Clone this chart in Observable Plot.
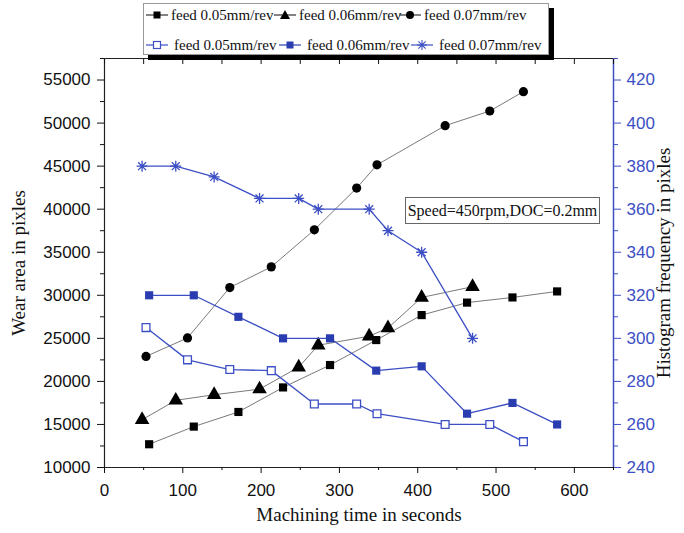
<!DOCTYPE html>
<html>
<head>
<meta charset="utf-8">
<script src="https://cdn.jsdelivr.net/npm/d3@7"></script>
<script src="https://cdn.jsdelivr.net/npm/@observablehq/plot@0.6"></script>
<style>
  body { margin: 0; background: #fff; }
  #wrap { position: relative; width: 684px; height: 533px; }
  #legend { position: relative; height: 55px; z-index: 2; }
  #lbox { position: absolute; left: 143px; top: 3px; width: 404px; height: 50px;
          border: 1px solid #999; box-shadow: 5px 5px 0 #000; background: #fff;
          font-family: "Liberation Serif", "Times New Roman", serif; font-size: 15px; color: #111; }
  .item { position: absolute; display: flex; align-items: center; white-space: nowrap; height: 16px; }
  .item svg { display: block; margin-right: 2px; }
  #note { position: absolute; left: 405px; top: 197px; width: 193px; height: 25px;
          border: 1px solid #666; background: #fff; z-index: 2;
          font-family: "Liberation Serif", "Times New Roman", serif; font-size: 16px;
          line-height: 25px; text-align: center; color: #111; }
</style>
</head>
<body>
<div id="wrap">
  <div id="legend"><div id="lbox"></div></div>
  <div id="chart"></div>
  <div id="note">Speed=450rpm,DOC=0.2mm</div>
</div>
<script>
// ---- data ----
const t05 = [57, 114, 171, 228, 288, 347, 405, 463, 521, 578];
const wear05 = [12700, 14750, 16450, 19300, 21900, 24800, 27700, 29150, 29750, 30450];
const t06 = [48, 91, 140, 198, 248, 273, 338, 362, 405, 470];
const wear06 = [15550, 17800, 18450, 19100, 21650, 24200, 25250, 26200, 29750, 31000];
const t07 = [53, 106, 160, 213, 268, 322, 348, 435, 492, 535];
const wear07 = [22900, 25050, 30900, 33300, 37600, 42450, 45150, 49700, 51400, 53650];

// histogram frequency (right axis)
const hist05 = [305, 290, 285.5, 285, 269.5, 269.5, 265, 260, 260, 252];   // at t07
const hist06 = [320, 320, 310, 300, 300, 285, 287, 265, 270, 260];         // at t05
const hist07 = [380, 380, 375, 365, 365, 360, 360, 350, 340, 300];         // at t06

const leftTicks = [10000, 15000, 20000, 25000, 30000, 35000, 40000, 45000, 50000, 55000];
const rightTicks = [240, 260, 280, 300, 320, 340, 360, 380, 400, 420];
const xTicks = [0, 100, 200, 300, 400, 500, 600];
const legendRow1 = ["feed 0.05mm/rev", "feed 0.06mm/rev", "feed 0.07mm/rev"];
const legendRow2 = ["feed 0.05mm/rev", "feed 0.06mm/rev", "feed 0.07mm/rev"];

// ---- styling ----
const blue = "#3c4fc4";
const blueFill = "#2a3db0";
const gray = "#7a7a7a";
const serif = "'Liberation Serif', 'Times New Roman', serif";

// right axis maps onto the left scale: 240..430 -> 10000..57500
const yR = v => 10000 + (v - 240) * 250;

const zip = (xs, ys, f = d => d) => xs.map((x, i) => ({x, y: f(ys[i])}));
const s05 = zip(t05, wear05), s06 = zip(t06, wear06), s07 = zip(t07, wear07);
const h05 = zip(t07, hist05, yR), h06 = zip(t05, hist06, yR), h07 = zip(t06, hist07, yR);

const asterisk = {
  draw(ctx, size) {
    const r = Math.sqrt(size / Math.PI), d = r * 0.72;
    ctx.moveTo(-r, 0); ctx.lineTo(r, 0);
    ctx.moveTo(0, -r); ctx.lineTo(0, r);
    ctx.moveTo(-d, -d); ctx.lineTo(d, d);
    ctx.moveTo(-d, d); ctx.lineTo(d, -d);
  }
};

const minorY = d3.range(12500, 57501, 5000);
const minorR = d3.range(250, 431, 20).map(yR);
const minorX = d3.range(50, 651, 100);

const chart = Plot.plot({
  width: 684, height: 478,
  marginTop: 3, marginBottom: 66, marginLeft: 104, marginRight: 71,
  style: {fontFamily: "'Liberation Sans', Arial, sans-serif", fontSize: "17px", background: "white", color: "#111"},
  x: {domain: [0, 650]},
  y: {domain: [10000, 57500]},
  marks: [
    // frame
    Plot.ruleX([0], {stroke: "#222", strokeWidth: 1.2}),
    Plot.ruleX([650], {stroke: blue, strokeWidth: 1.5}),
    Plot.ruleY([10000, 57500], {stroke: "#222", strokeWidth: 1.2}),
    // axes
    Plot.axisY({anchor: "left", ticks: leftTicks, tickSize: 7, tickPadding: 7, label: null, tickFormat: d => String(d), fontSize: 17}),
    Plot.axisY({anchor: "left", ticks: minorY, tickSize: 4, label: null, tickFormat: () => ""}),
    Plot.axisY({anchor: "right", ticks: rightTicks.map(yR), tickSize: 7, tickPadding: 6, label: null,
                tickFormat: d => String(Math.round((d - 10000) / 250 + 240)), color: blue, fontSize: 17}),
    Plot.axisY({anchor: "right", ticks: minorR, tickSize: 4, label: null, tickFormat: () => "", color: blue}),
    Plot.axisX({anchor: "bottom", ticks: xTicks, tickSize: 6, tickPadding: 10, label: null, fontSize: 17}),
    Plot.axisX({anchor: "bottom", ticks: minorX, tickSize: 3, label: null, tickFormat: () => ""}),
    Plot.axisX({anchor: "top", ticks: d3.range(0, 651, 50), tickSize: -5, label: null, tickFormat: () => ""}),
    // titles
    Plot.text(["Wear area in pixles"], {frameAnchor: "left", dx: -86, rotate: -90, text: d => d, textAnchor: "middle",
      fontFamily: serif, fontSize: 19, fill: "#111"}),
    Plot.text(["Histogram frequency in pixles"], {frameAnchor: "right", dx: 50, rotate: -90, text: d => d, textAnchor: "middle",
      fontFamily: serif, fontSize: 19, fill: "#111"}),
    Plot.text(["Machining time in seconds"], {frameAnchor: "bottom", dy: 53, text: d => d,
      fontFamily: serif, fontSize: 19, fill: "#111"}),
    // wear-area series (left axis)
    Plot.line(s05, {x: "x", y: "y", stroke: gray, strokeWidth: 1}),
    Plot.line(s06, {x: "x", y: "y", stroke: gray, strokeWidth: 1}),
    Plot.line(s07, {x: "x", y: "y", stroke: gray, strokeWidth: 1}),
    Plot.dot(s05, {x: "x", y: "y", symbol: "square", r: 4.6, fill: "#000"}),
    Plot.dot(s06, {x: "x", y: "y", symbol: "triangle", r: 5.4, fill: "#000"}),
    Plot.dot(s07, {x: "x", y: "y", symbol: "circle", r: 4.6, fill: "#000"}),
    // histogram series (right axis)
    Plot.line(h05, {x: "x", y: "y", stroke: blue, strokeWidth: 1.3}),
    Plot.line(h06, {x: "x", y: "y", stroke: blue, strokeWidth: 1.3}),
    Plot.line(h07, {x: "x", y: "y", stroke: blue, strokeWidth: 1.3}),
    Plot.dot(h05, {x: "x", y: "y", symbol: "square", r: 4.4, fill: "#fff", stroke: blue, strokeWidth: 1.3}),
    Plot.dot(h06, {x: "x", y: "y", symbol: "square", r: 4.6, fill: blueFill}),
    Plot.dot(h07, {x: "x", y: "y", symbol: asterisk, r: 5.5, fill: "none", stroke: blue, strokeWidth: 1.3})
  ]
});
document.getElementById("chart").appendChild(chart);

// ---- legend ----
function sym(kind, color) {
  const w = 24, h = 14, c = 12;
  let mk = "";
  if (kind === "square") mk = `<rect x="${c - 3.5}" y="3.5" width="7" height="7" fill="${color}"/>`;
  if (kind === "osquare") mk = `<rect x="${c - 3.5}" y="3.5" width="7" height="7" fill="#fff" stroke="${color}" stroke-width="1.2"/>`;
  if (kind === "triangle") mk = `<path d="M${c},2 L${c + 5},11 L${c - 5},11 Z" fill="${color}"/>`;
  if (kind === "circle") mk = `<circle cx="${c}" cy="7" r="4" fill="${color}"/>`;
  if (kind === "asterisk") mk = `<path d="M${c - 5},7H${c + 5}M${c},2V12M${c - 3.6},3.4L${c + 3.6},10.6M${c - 3.6},10.6L${c + 3.6},3.4" stroke="${color}" stroke-width="1.1" fill="none"/>`;
  const lc = color === "#000" ? "#333" : color;
  return `<svg width="${w}" height="${h}"><line x1="1" y1="7" x2="${w - 1}" y2="7" stroke="${lc}" stroke-width="1.2"/>${mk}</svg>`;
}
const lbox = document.getElementById("lbox");
const row1 = [["square", "#000"], ["triangle", "#000"], ["circle", "#000"]];
const row2 = [["osquare", blue], ["square", blueFill], ["asterisk", blue]];
const left1 = [1, 129, 254], left2 = [1, 134, 266];
legendRow1.forEach((t, i) => {
  const d = document.createElement("div");
  d.className = "item"; d.style.left = left1[i] + "px"; d.style.top = "3px";
  d.innerHTML = sym(row1[i][0], row1[i][1]) + `<span>${t}</span>`;
  lbox.appendChild(d);
});
legendRow2.forEach((t, i) => {
  const d = document.createElement("div");
  d.className = "item"; d.style.left = left2[i] + "px"; d.style.top = "33px";
  d.innerHTML = sym(row2[i][0], row2[i][1]) + `<span style="margin-left:3px">${t}</span>`;
  lbox.appendChild(d);
});
</script>
</body>
</html>
